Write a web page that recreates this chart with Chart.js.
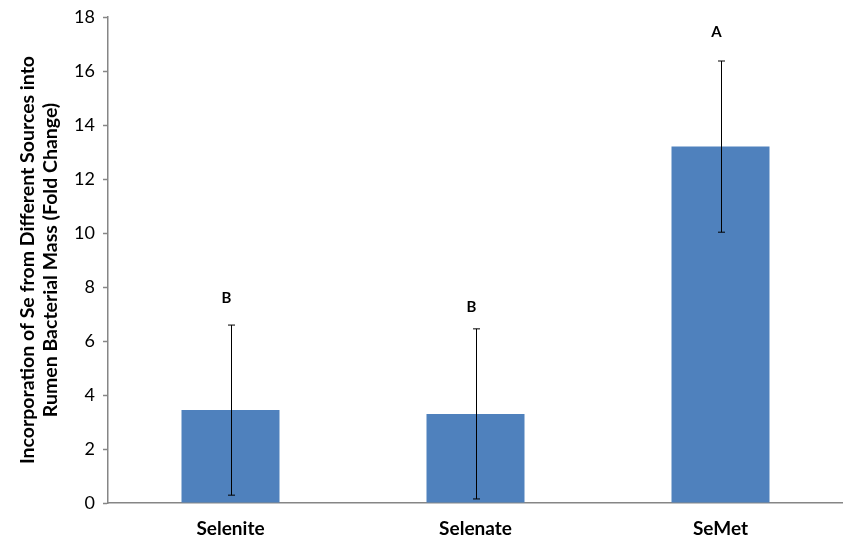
<!DOCTYPE html>
<html>
<head>
<meta charset="utf-8">
<script src="https://cdn.jsdelivr.net/npm/chart.js@4/dist/chart.umd.min.js"></script>
<style>
  html, body { margin: 0; padding: 0; background: #fff; }
  #wrap { width: 843px; height: 541px; }
</style>
</head>
<body>
<div id="wrap"><canvas id="seChart"></canvas></div>
<script>
  // data
  let sources = ['Selenite', 'Selenate', 'SeMet'];
  let foldChange = [3.44, 3.30, 13.2];
  let errSE = [3.15, 3.15, 3.17];
  let letters = ['B', 'B', 'A'];
  let letterAt = [7.6, 7.25, 17.45];
  let yTicks = [0, 2, 4, 6, 8, 10, 12, 14, 16, 18];

  let fontFam = 'Lato, "Open Sans", sans-serif';
  let axisGray = '#868686';

  // error bars + significance letters
  let errorBars = {
    id: 'errorBars',
    afterDatasetsDraw(chart) {
      let c = chart.ctx;
      let y = chart.scales.y;
      let meta = chart.getDatasetMeta(0);
      c.save();
      meta.data.forEach((bar, i) => {
        let x = Math.round(bar.x) + 0.5;
        let top = y.getPixelForValue(foldChange[i] + errSE[i]);
        let bot = y.getPixelForValue(foldChange[i] - errSE[i]);
        c.strokeStyle = '#000';
        c.lineWidth = 1;
        c.beginPath();
        c.moveTo(x, top); c.lineTo(x, bot);
        c.moveTo(x - 3.5, top); c.lineTo(x + 3.5, top);
        c.moveTo(x - 3.5, bot); c.lineTo(x + 3.5, bot);
        c.stroke();
        c.fillStyle = '#000';
        c.font = 'bold 15px ' + fontFam;
        c.textAlign = 'center';
        c.textBaseline = 'middle';
        c.fillText(letters[i], bar.x - 4, y.getPixelForValue(letterAt[i]));
      });
      c.restore();
    }
  };

  let ctx = document.getElementById('seChart').getContext('2d');
  let seChart = new Chart(ctx, {
    type: 'bar',
    data: {
      labels: sources,
      datasets: [{
        data: foldChange,
        backgroundColor: '#4F81BD',
        borderWidth: 0,
        barPercentage: 0.4,
        categoryPercentage: 1.0
      }]
    },
    options: {
      responsive: true,
      maintainAspectRatio: false,
      animation: false,
      layout: { padding: { top: 17, right: 0, left: 0, bottom: 0 } },
      plugins: {
        legend: { display: false },
        tooltip: { enabled: false }
      },
      scales: {
        x: {
          grid: { display: false },
          border: { display: true, color: axisGray, width: 1.5 },
          ticks: { color: '#000', font: { family: fontFam, size: 19, weight: 'bold' }, padding: 6 },
          afterFit(scale) { scale.height = 38; }
        },
        y: {
          min: 0,
          max: 18,
          afterBuildTicks(scale) { scale.ticks = yTicks.map(v => ({ value: v })); },
          grid: { display: true, drawOnChartArea: false, color: axisGray, tickLength: 5, tickWidth: 1.5 },
          border: { display: true, color: axisGray, width: 1.5 },
          ticks: { color: '#000', font: { family: fontFam, size: 18 }, padding: 8 },
          title: {
            display: true,
            text: ['Incorporation of Se from Different Sources into', 'Rumen Bacterial Mass (Fold Change)'],
            color: '#000',
            font: { family: fontFam, size: 19.5, weight: 'bold', lineHeight: 1.15 },
            padding: { top: 17, bottom: 8 }
          },
          afterFit(scale) {
            scale.width = 108;
            scale.paddingTop = 0;
            scale.paddingBottom = 0;
          }
        }
      }
    },
    plugins: [errorBars]
  });
</script>
</body>
</html>
